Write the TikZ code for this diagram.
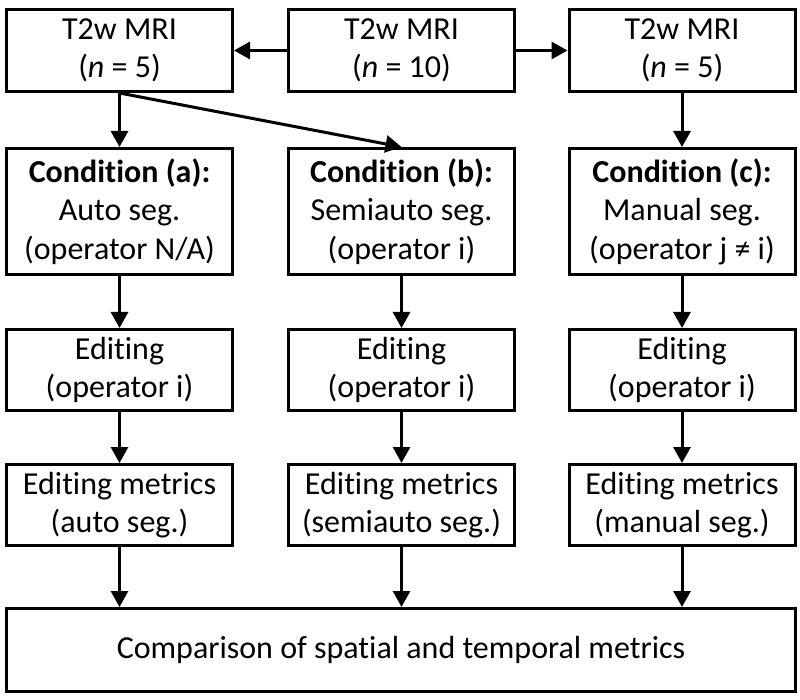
\documentclass[tikz,border=0pt]{standalone}
\usepackage{fontspec}
\setmainfont{Carlito}[RawFeature={-liga;-clig;-calt;-dlig;-rlig}]
\usetikzlibrary{arrows.meta}
\begin{document}
\begin{tikzpicture}[x=1pt,y=-1pt,
  box/.style={draw,line width=3pt,align=center,inner sep=0pt,
    minimum width=226pt,font=\fontsize{32}{38.5}\selectfont},
  flow/.style={line width=3pt,-{Triangle[length=16pt,width=17pt]}}]
\useasboundingbox (0,0) rectangle (800,700);
% top row
\node[box,minimum height=82pt] (t1) at (119.5,50.5) {T2w MRI\\(\textit{n} = 5)};
\node[box,minimum height=82pt] (t2) at (401.5,50.5) {T2w MRI\\(\textit{n} = 10)};
\node[box,minimum height=82pt] (t3) at (682,50.5) {T2w MRI\\(\textit{n} = 5)};
% conditions
\node[box,minimum height=126pt] (c1) at (119.5,211.5) {\textbf{Condition (a):}\\Auto seg.\\(operator N/A)};
\node[box,minimum height=126pt] (c2) at (401.5,211.5) {\textbf{Condition (b):}\\Semiauto seg.\\(operator i)};
\node[box,minimum height=126pt] (c3) at (682,211.5) {\textbf{Condition (c):}\\Manual seg.\\(operator j ≠ i)};
% editing
\node[box,minimum height=81pt] (e1) at (119.5,370) {Editing\\(operator i)};
\node[box,minimum height=81pt] (e2) at (401.5,370) {Editing\\(operator i)};
\node[box,minimum height=81pt] (e3) at (682,370) {Editing\\(operator i)};
% metrics
\node[box,minimum height=81pt] (m1) at (119.5,505) {Editing metrics\\(auto seg.)};
\node[box,minimum height=81pt] (m2) at (401.5,505) {Editing metrics\\(semiauto seg.)};
\node[box,minimum height=81pt] (m3) at (682,505) {Editing metrics\\(manual seg.)};
% comparison
\node[box,minimum width=789pt,minimum height=83pt] (cmp) at (401,650) {Comparison of spatial and temporal metrics};
% connectors
\draw[flow] (t2) -- (t1);
\draw[flow] (t2) -- (t3);
\draw[flow] (t1) -- (c1);
\draw[flow] (t1.south) -- (c2.north);
\draw[flow] (t3) -- (c3);
\foreach \i in {1,2,3}{
  \draw[flow] (c\i) -- (e\i);
  \draw[flow] (e\i) -- (m\i);
  \draw[flow] (m\i.south) -- (m\i.south |- cmp.north);
}
\end{tikzpicture}
\end{document}
